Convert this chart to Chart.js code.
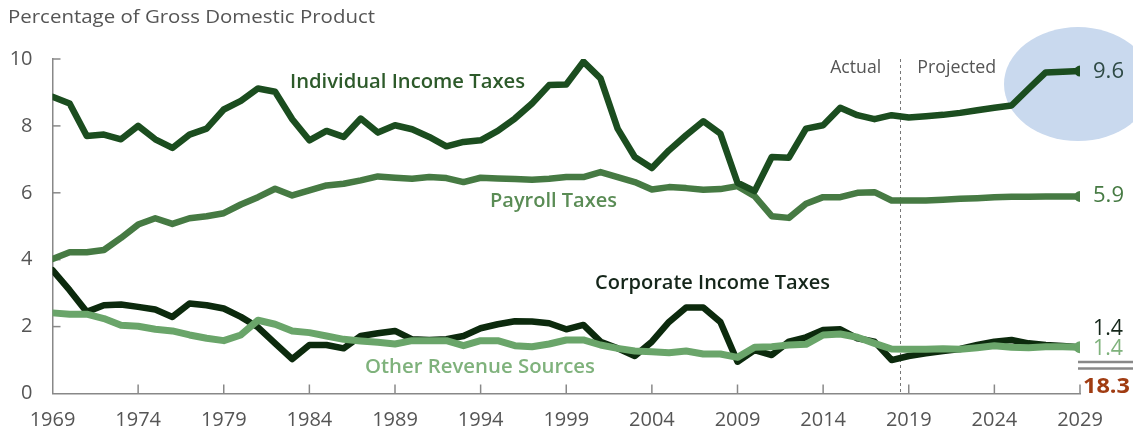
<!DOCTYPE html>
<html>
<head>
<meta charset="utf-8">
<script src="https://cdn.jsdelivr.net/npm/chart.js@4.4.1/dist/chart.umd.min.js"></script>
<style>
  html, body { margin: 0; padding: 0; background: #ffffff; }
  #wrap { position: relative; width: 1133px; height: 434px; }
</style>
</head>
<body>
<div id="wrap"><canvas id="c" width="1133" height="434"></canvas></div>
<script>
// ---------------- DATA ----------------
const years = [];
for (let y = 1969; y <= 2029; y++) years.push(y);

const individualIncome = [
  8.87, 8.67, 7.70, 7.74, 7.60, 8.00, 7.60, 7.34, 7.74, 7.92,
  8.49, 8.75, 9.12, 9.02, 8.20, 7.57, 7.85, 7.67, 8.22, 7.80,
  8.02, 7.90, 7.67, 7.39, 7.52, 7.57, 7.85, 8.22, 8.67, 9.22,
  9.24, 9.92, 9.42, 7.92, 7.07, 6.74, 7.27, 7.72, 8.14, 7.77,
  6.30, 6.05, 7.07, 7.05, 7.92, 8.02, 8.54, 8.32, 8.20, 8.32,
  8.25, 8.29, 8.33, 8.39, 8.47, 8.54, 8.61, 9.11, 9.60, 9.62, 9.64
];
const payroll = [
  4.02, 4.22, 4.22, 4.29, 4.65, 5.05, 5.24, 5.07, 5.24, 5.30,
  5.39, 5.65, 5.87, 6.12, 5.92, 6.07, 6.22, 6.27, 6.37, 6.49,
  6.45, 6.42, 6.47, 6.44, 6.32, 6.45, 6.43, 6.41, 6.39, 6.42,
  6.47, 6.47, 6.62, 6.47, 6.32, 6.10, 6.17, 6.14, 6.09, 6.11,
  6.20, 5.90, 5.30, 5.25, 5.67, 5.87, 5.87, 6.00, 6.02, 5.77,
  5.77, 5.77, 5.79, 5.82, 5.84, 5.87, 5.88, 5.88, 5.89, 5.89, 5.89
];
const corporate = [
  3.69, 3.09, 2.44, 2.64, 2.66, 2.59, 2.51, 2.29, 2.69, 2.64,
  2.54, 2.29, 1.98, 1.50, 1.03, 1.45, 1.45, 1.35, 1.72, 1.80,
  1.87, 1.62, 1.60, 1.62, 1.72, 1.95, 2.07, 2.16, 2.15, 2.10,
  1.92, 2.05, 1.55, 1.35, 1.12, 1.55, 2.14, 2.57, 2.57, 2.14,
  0.95, 1.30, 1.15, 1.55, 1.68, 1.90, 1.92, 1.65, 1.55, 1.00,
  1.12, 1.20, 1.27, 1.33, 1.45, 1.55, 1.60, 1.50, 1.45, 1.42, 1.38
];
const otherRevenue = [
  2.41, 2.37, 2.37, 2.24, 2.04, 2.01, 1.92, 1.87, 1.75, 1.65,
  1.58, 1.75, 2.19, 2.07, 1.87, 1.82, 1.72, 1.62, 1.57, 1.53,
  1.48, 1.58, 1.58, 1.58, 1.43, 1.58, 1.58, 1.43, 1.40, 1.48,
  1.60, 1.60, 1.45, 1.35, 1.27, 1.25, 1.22, 1.27, 1.18, 1.18,
  1.08, 1.38, 1.40, 1.45, 1.47, 1.75, 1.78, 1.68, 1.50, 1.33,
  1.32, 1.32, 1.34, 1.32, 1.37, 1.43, 1.38, 1.37, 1.40, 1.40, 1.38
];
const xTickLabels = ['1969','1974','1979','1984','1989','1994','1999','2004','2009','2014','2019','2024','2029'];
const yTickLabels = ['0','2','4','6','8','10'];
const seriesNames = ['Individual Income Taxes','Payroll Taxes','Corporate Income Taxes','Other Revenue Sources'];
const endLabels = ['9.6','5.9','1.4','1.4'];
const totalLabel = '18.3';
const splitYear = 2018.5;
const phaseLabels = ['Actual','Projected'];
const titleText = 'Percentage of Gross Domestic Product';

// ---------------- STYLE ----------------
const FONT = '"Open Sans", Lato, sans-serif';
const C_IND = '#1b4d1f', C_PAY = '#467a43', C_CORP = '#0c2a0d', C_OTH = '#6aa56a';

function pts(vals) { return years.map((y, i) => ({ x: y, y: vals[i] })); }
function lastDot(r) { return years.map((y, i) => i === years.length - 1 ? r : 0); }

// draw text scaled horizontally to a target width (keeps the glyph height of `size`)
function fitText(ctx, text, x, y, size, weight, width) {
  ctx.font = weight + ' ' + size + 'px ' + FONT;
  const w = ctx.measureText(text).width;
  ctx.save();
  ctx.translate(x, y);
  ctx.scale(width / w, 1);
  ctx.fillText(text, 0, 0);
  ctx.restore();
}

const decor = {
  id: 'decor',
  beforeDatasetsDraw(chart) {
    const ctx = chart.ctx, xs = chart.scales.x, ys = chart.scales.y;
    ctx.save();
    ctx.fillStyle = '#c9d9ee';
    ctx.beginPath();
    ctx.ellipse(xs.getPixelForValue(2029) - 2, ys.getPixelForValue(9.25), 74, 57, 0, 0, Math.PI * 2);
    ctx.fill();
    ctx.restore();
    ctx.save();
    ctx.strokeStyle = '#777';
    ctx.lineWidth = 1;
    ctx.setLineDash([3, 3]);
    const sx = Math.round(xs.getPixelForValue(splitYear)) + 0.5;
    ctx.beginPath();
    ctx.moveTo(sx, ys.getPixelForValue(10));
    ctx.lineTo(sx, ys.getPixelForValue(0));
    ctx.stroke();
    ctx.restore();
    ctx.save();
    ctx.strokeStyle = '#888';
    ctx.lineWidth = 1.5;
    xTickLabels.forEach(t => {
      const v = Number(t);
      if (v === 1969) return;
      const px = xs.getPixelForValue(v);
      ctx.beginPath();
      ctx.moveTo(px, ys.bottom);
      ctx.lineTo(px, ys.bottom - 9);
      ctx.stroke();
    });
    yTickLabels.forEach(t => {
      const v = Number(t);
      if (v === 0) return;
      const py = ys.getPixelForValue(v);
      ctx.beginPath();
      ctx.moveTo(xs.left, py);
      ctx.lineTo(xs.left + 8, py);
      ctx.stroke();
    });
    ctx.restore();
  },
  afterDatasetsDraw(chart) {
    const ctx = chart.ctx, xs = chart.scales.x, ys = chart.scales.y;
    ctx.save();
    ctx.textBaseline = 'middle';
    ctx.textAlign = 'left';
    // title
    ctx.fillStyle = '#555';
    fitText(ctx, titleText, 8, 18, 19, 'normal', 367);
    // phase labels
    const sx = xs.getPixelForValue(splitYear);
    ctx.fillStyle = '#555';
    fitText(ctx, phaseLabels[0], sx - 70, 68, 18, 'normal', 51);
    fitText(ctx, phaseLabels[1], sx + 17, 68, 18, 'normal', 79);
    // series labels
    ctx.fillStyle = '#2d5a2a'; fitText(ctx, seriesNames[0], 290, 82, 20, '600', 235);
    ctx.fillStyle = '#5a8c55'; fitText(ctx, seriesNames[1], 490, 201, 20, '600', 127);
    ctx.fillStyle = '#15261a'; fitText(ctx, seriesNames[2], 595, 283, 20, '600', 235);
    ctx.fillStyle = '#7fb27c'; fitText(ctx, seriesNames[3], 365, 367, 20, '600', 230);
    // end labels
    const ex = xs.getPixelForValue(2029) + 13;
    ctx.fillStyle = '#2e4a45'; fitText(ctx, endLabels[0], ex, 72, 21, 'normal', 31);
    ctx.fillStyle = '#467a43'; fitText(ctx, endLabels[1], ex, 196, 21, 'normal', 31);
    ctx.fillStyle = '#15261a'; fitText(ctx, endLabels[2], ex, 329, 21, 'normal', 30);
    ctx.fillStyle = '#7fb27c'; fitText(ctx, endLabels[3], ex, 349, 21, 'normal', 30);
    // double rule
    ctx.strokeStyle = '#888';
    ctx.lineWidth = 2.5;
    [362, 368.5].forEach(yy => {
      ctx.beginPath(); ctx.moveTo(ex - 15, yy); ctx.lineTo(1133, yy); ctx.stroke();
    });
    ctx.fillStyle = '#a03c12';
    fitText(ctx, totalLabel, ex - 10, 387, 21, 'bold', 47);
    ctx.restore();
  }
};

new Chart(document.getElementById('c'), {
  type: 'line',
  data: {
    datasets: [
      { label: seriesNames[0], data: pts(individualIncome), borderColor: C_IND, backgroundColor: C_IND, borderWidth: 6.5, pointRadius: lastDot(5.5), pointBackgroundColor: C_IND, pointBorderWidth: 0, tension: 0 },
      { label: seriesNames[1], data: pts(payroll), borderColor: C_PAY, backgroundColor: C_PAY, borderWidth: 6.5, pointRadius: lastDot(5.5), pointBackgroundColor: C_PAY, pointBorderWidth: 0, tension: 0 },
      { label: seriesNames[3], data: pts(otherRevenue), borderColor: C_OTH, backgroundColor: C_OTH, borderWidth: 7, pointRadius: lastDot(6), pointBackgroundColor: C_OTH, pointBorderWidth: 0, tension: 0 },
      { label: seriesNames[2], data: pts(corporate), borderColor: C_CORP, backgroundColor: C_CORP, borderWidth: 6.5, pointRadius: lastDot(0), pointBorderWidth: 0, tension: 0 }
    ]
  },
  options: {
    responsive: false,
    animation: false,
    events: [],
    layout: { padding: { top: 59, right: 53, left: 0, bottom: 0 } },
    plugins: { legend: { display: false }, tooltip: { enabled: false } },
    elements: { line: { borderJoinStyle: 'round', borderCapStyle: 'round' } },
    scales: {
      x: {
        type: 'linear', min: 1969, max: 2029,
        afterBuildTicks: s => { s.ticks = xTickLabels.map(t => ({ value: Number(t) })); },
        afterFit: s => { s.height = 40.5; },
        grid: { display: false, drawTicks: false },
        border: { display: true, color: '#888', width: 1.5 },
        ticks: { callback: (v) => String(v), color: '#555', font: { family: FONT, size: 20 }, padding: 15, maxRotation: 0, autoSkip: false }
      },
      y: {
        min: 0, max: 10,
        afterBuildTicks: s => { s.ticks = yTickLabels.map(t => ({ value: Number(t) })); },
        afterFit: s => { s.width = 52.5; },
        grid: { display: false, drawTicks: false },
        border: { display: true, color: '#888', width: 1.5 },
        ticks: { callback: (v) => String(v), color: '#555', font: { family: FONT, size: 20 }, padding: 20 }
      }
    }
  },
  plugins: [decor]
});
</script>
</body>
</html>
